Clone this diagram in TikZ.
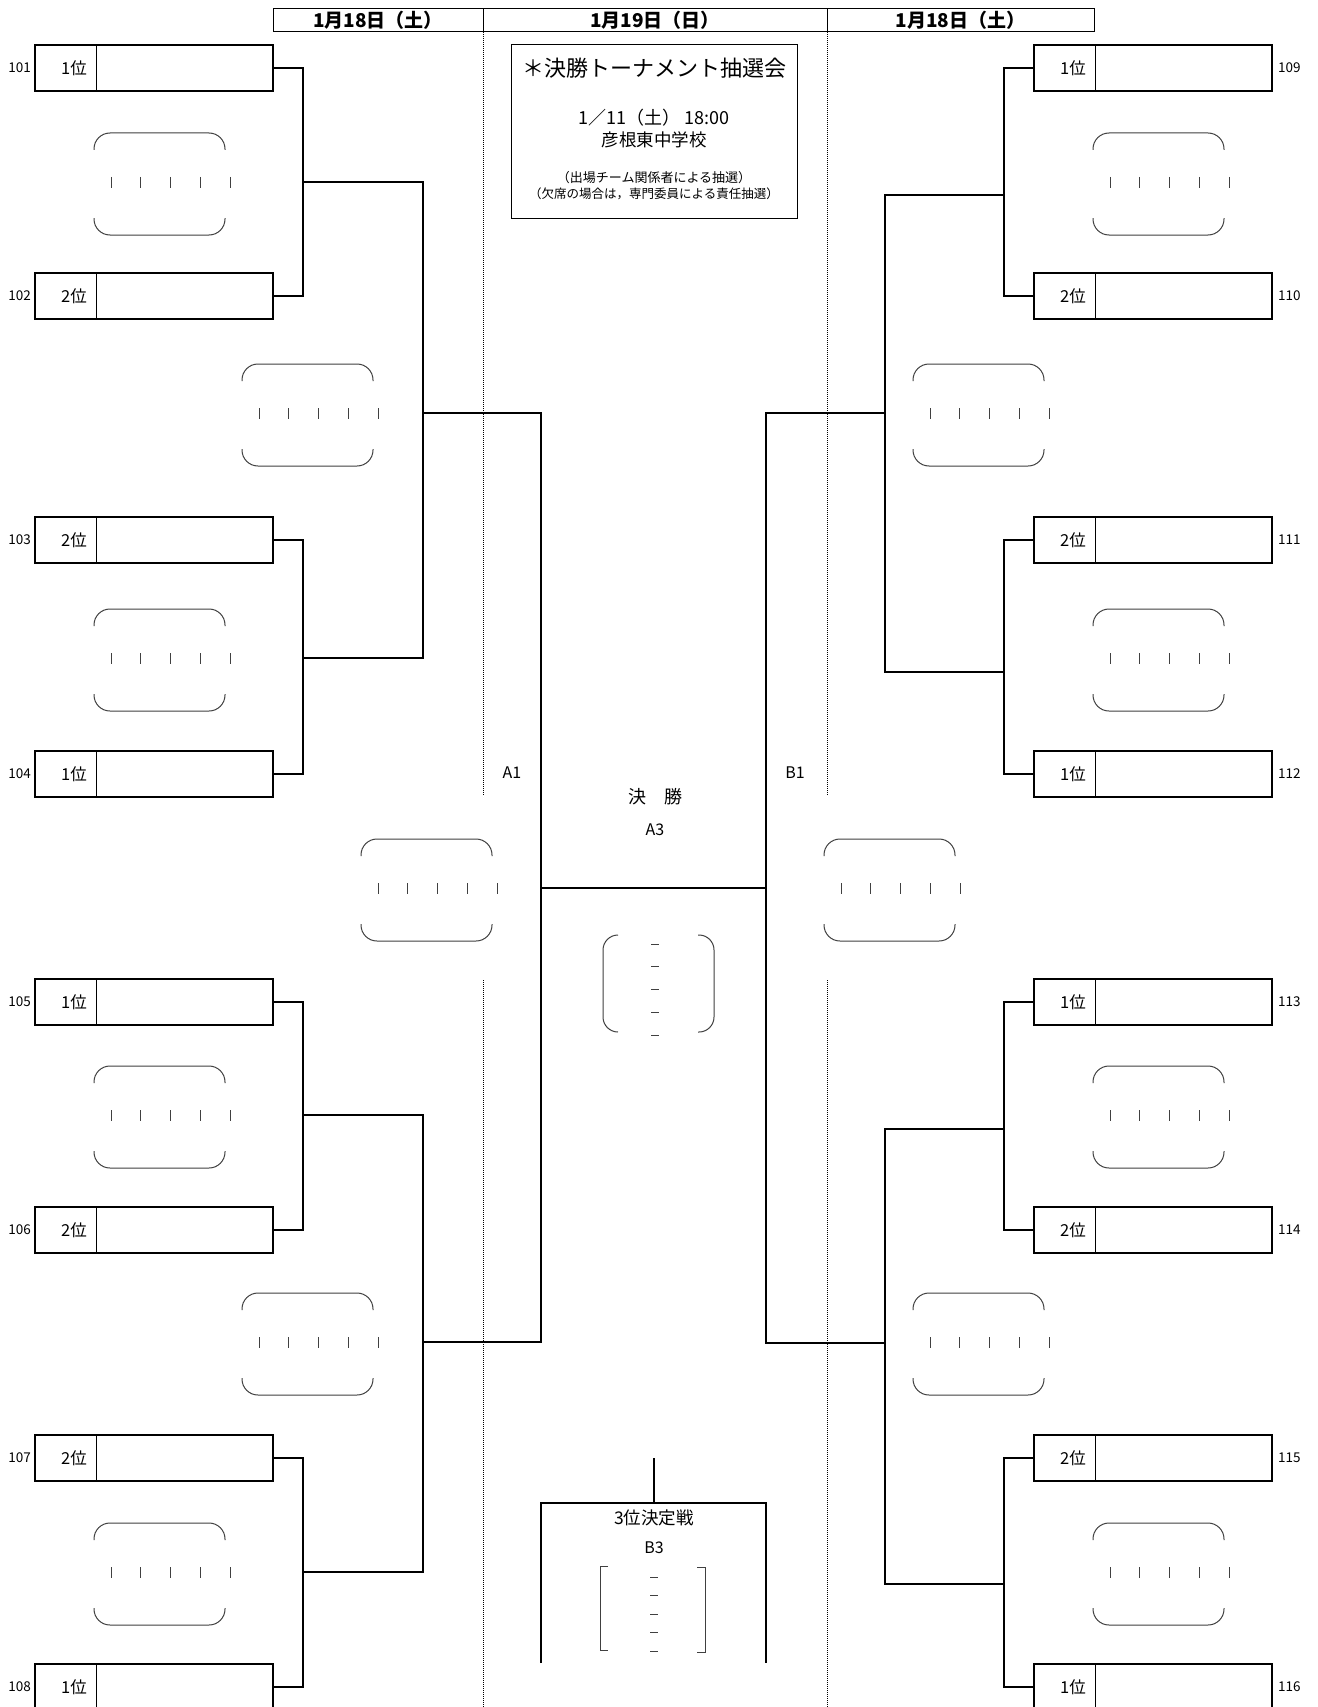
\documentclass[tikz,border=0pt]{standalone}
\usepackage{fontspec}
\setmainfont{Noto Sans CJK JP}
\usepackage{tikz}

\begin{document}
\begin{tikzpicture}[x=1pt,y=-1pt,
  team/.style={draw,line width=2pt,minimum width=238pt,minimum height=46pt,inner sep=0pt,outer sep=0pt},
  rank/.style={font=\fontsize{16.5}{19}\selectfont,inner sep=0pt},
  num/.style={font=\fontsize{13.5}{16}\selectfont,inner sep=0pt},
  day/.style={draw,line width=1pt,minimum height=23pt,inner sep=0pt,font=\bfseries\fontsize{19}{22}\selectfont},
  lbl/.style={font=\fontsize{16}{19}\selectfont,inner sep=0pt},
  bracket/.style={line width=2pt},
  score/.pic={
    \draw[line width=1pt,black!75,rounded corners=16pt] (-65.5,-32) -- (-65.5,-49) -- (65.5,-49) -- (65.5,-32)
      (-65.5,36) -- (-65.5,53) -- (65.5,53) -- (65.5,36);
    \foreach \k in {0,...,4} \draw[line width=1pt,black!75] (-48.5+29.75*\k,-5) -- ++(0,11);}]
  \clip (0,0) rectangle (1317,1707);
  \fill[white] (0,0) rectangle (1317,1707);

  \node[day,minimum width=210pt] (d1) at (378,20.5) {1月18日（土）};
  \node[day,minimum width=344pt] (d2) at (655,20.5) {1月19日（日）};
  \node[day,minimum width=267pt] (d3) at (960.5,20.5) {1月18日（土）};
  \draw[line width=1pt,dash pattern=on 1pt off 1pt] (483,32) -- (483,796) (483,980) -- (483,1707)
    (827,32) -- (827,796) (827,980) -- (827,1707);

  \node[draw,line width=1pt,minimum width=286pt,minimum height=173pt] (info) at (654,131.5) {};
  \node[font=\fontsize{22}{24}\selectfont] (title) at (654,68) {＊決勝トーナメント抽選会};
  \node[font=\fontsize{18}{20}\selectfont] (date) at (654,118) {1／11（土） 18:00};
  \node[font=\fontsize{17.5}{20}\selectfont] (place) at (654,140) {彦根東中学校};
  \node[font=\fontsize{13}{15}\selectfont] (note1) at (654,178) {（出場チーム関係者による抽選）};
  \node[font=\fontsize{12.5}{15}\selectfont] (note2) at (654,194) {（欠席の場合は，専門委員による責任抽選）};

  \foreach \n/\r/\y in {101/1/68,102/2/296,103/2/540,104/1/774,105/1/1002,106/2/1230,107/2/1458,108/1/1687}{
    \node[team] (t\n) at (154,\y) {};
    \node[rank,anchor=east] (r\n) at ([xshift=52pt]t\n.west) {\r 位};
    \node[num,anchor=east] (n\n) at ([xshift=-4pt]t\n.west) {\n};
    \draw[line width=1pt] ([xshift=61pt]t\n.north west) -- ([xshift=61pt]t\n.south west);
  }
  \foreach \n/\r/\y in {109/1/68,110/2/296,111/2/540,112/1/774,113/1/1002,114/2/1230,115/2/1458,116/1/1687}{
    \node[team] (t\n) at (1153,\y) {};
    \node[rank,anchor=east] (r\n) at ([xshift=52pt]t\n.west) {\r 位};
    \node[num,anchor=west] (n\n) at ([xshift=6pt]t\n.east) {\n};
    \draw[line width=1pt] ([xshift=61pt]t\n.north west) -- ([xshift=61pt]t\n.south west);
  }

  \foreach \x/\y in {159.5/182,159.5/658,159.5/1115,159.5/1572,307.5/413,307.5/1342,426.5/888,
    889.5/888,978.5/413,978.5/1342,1158.5/182,1158.5/658,1158.5/1115,1158.5/1572}
    \pic at (\x,\y) {score};

  \coordinate (a1) at (303,182);  \coordinate (a2) at (303,658);
  \coordinate (a3) at (303,1115); \coordinate (a4) at (303,1572);
  \coordinate (b1) at (423,413);  \coordinate (b2) at (423,1342);
  \coordinate (c1) at (541,888);
  \coordinate (a5) at (1004,195);  \coordinate (a6) at (1004,672);
  \coordinate (a7) at (1004,1129); \coordinate (a8) at (1004,1584);
  \coordinate (b3) at (885,413);  \coordinate (b4) at (885,1343);
  \coordinate (c2) at (766,888);
  \draw[bracket] (t101.east) -| (a1) |- (t102.east);
  \draw[bracket] (t103.east) -| (a2) |- (t104.east);
  \draw[bracket] (t105.east) -| (a3) |- (t106.east);
  \draw[bracket] (t107.east) -| (a4) |- (t108.east);
  \draw[bracket] (a1) -| (b1) |- (a2);
  \draw[bracket] (a3) -| (b2) |- (a4);
  \draw[bracket] (b1) -| (c1) |- (b2);
  \draw[bracket] (t109.west) -| (a5) |- (t110.west);
  \draw[bracket] (t111.west) -| (a6) |- (t112.west);
  \draw[bracket] (t113.west) -| (a7) |- (t114.west);
  \draw[bracket] (t115.west) -| (a8) |- (t116.west);
  \draw[bracket] (a5) -| (b3) |- (a6);
  \draw[bracket] (a7) -| (b4) |- (a8);
  \draw[bracket] (b3) -| (c2) |- (b4);
  \draw[bracket] (c1) -- (c2);

  \node[lbl] (A1) at (512,773) {A1};
  \node[lbl] (B1) at (795,773) {B1};
  \node[font=\fontsize{18}{20}\selectfont] (final) at (655,797) {決　勝};
  \node[lbl] (A3) at (655,830) {A3};
  \draw[line width=1pt,black!75,rounded corners=15pt] (618,935) -- (603,935) -- (603,1032) -- (618,1032)
    (698,935) -- (714,935) -- (714,1032) -- (698,1032);
  \foreach \k in {0,...,4} \draw[line width=1pt,black!75] (651,944+22.75*\k) -- ++(8,0);

  \coordinate (e0) at (654,1458); \coordinate (e1) at (654,1503);
  \coordinate (e2) at (541,1663); \coordinate (e3) at (766,1663);
  \draw[bracket] (e0) -- (e1);
  \draw[bracket] (e2) |- (e1) -| (e3);
  \node[font=\fontsize{17.5}{20}\selectfont] (third) at (654,1518) {3位決定戦};
  \node[lbl] (B3) at (654,1548) {B3};
  \draw[line width=1pt,black!75] (608,1566) -- (600,1566) -- (600,1650) -- (608,1650)
    (697,1567) -- (705,1567) -- (705,1652) -- (697,1652);
  \foreach \k in {0,...,4} \draw[line width=1pt,black!75] (650,1577+18.5*\k) -- ++(8,0);
\end{tikzpicture}
\end{document}
